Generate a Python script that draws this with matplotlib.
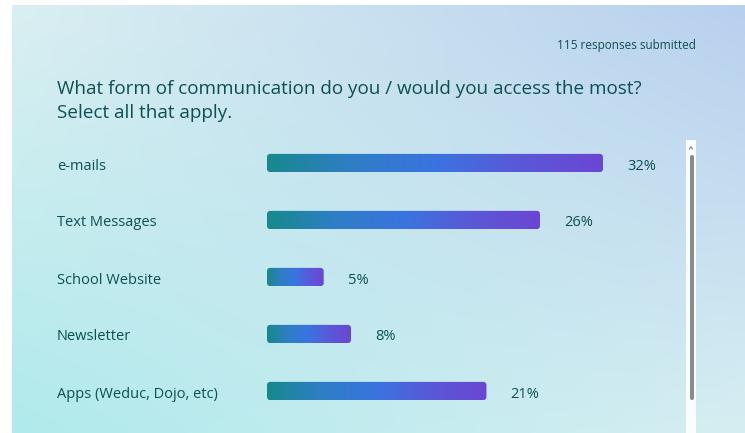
import numpy as np
import matplotlib
matplotlib.use("Agg")
import matplotlib.pyplot as plt
from matplotlib.patches import FancyBboxPatch, Rectangle
from matplotlib.colors import LinearSegmentedColormap
import matplotlib.transforms as mtransforms

categories = ["e-mails", "Text Messages", "School Website", "Newsletter", "Apps (Weduc, Dojo, etc)"]
percent_values = [32, 26, 5.4, 8, 20.9]
percent_labels = ["32%", "26%", "5%", "8%", "21%"]
title_text = "What form of communication do you / would you access the most?\nSelect all that apply."
responses_text = "115 responses submitted"

W, H = 745, 433
fig = plt.figure(figsize=(W / 100, H / 100), dpi=100)
fig.patch.set_facecolor("white")
plt.rcParams['font.family'] = ['Open Sans', 'DejaVu Sans']

# background axes in pixel coordinates
bg = fig.add_axes([0, 0, 1, 1])
bg.set_xlim(0, W)
bg.set_ylim(H, 0)
bg.axis("off")

# panel gradient (bilinear between corners)
tl = np.array([218, 239, 242]) / 255
tr = np.array([184, 208, 238]) / 255
bl = np.array([176, 234, 236]) / 255
br = np.array([214, 238, 242]) / 255
ny, nx = 100, 200
u = np.linspace(0, 1, nx)[None, :, None]
v = np.linspace(0, 1, ny)[:, None, None]
img = (1 - v) * ((1 - u) * tl + u * tr) + v * ((1 - u) * bl + u * br)
bg.imshow(img, extent=[12, W, H, 5], aspect="auto", interpolation="bilinear", zorder=0)

# scrollbar
bg.add_patch(Rectangle((686, 140), 10, H - 140, facecolor="#fbfcfd", edgecolor="none", zorder=1))
bg.add_patch(FancyBboxPatch((690, 155), 4, 245, boxstyle="round,pad=0,rounding_size=2",
                            facecolor="#8a8a8a", edgecolor="none", zorder=2))
bg.plot([689.5, 691, 692.5], [149, 146.5, 149], color="#8a8a8a", lw=0.8, zorder=2)

text_color = "#0d5052"
bg.text(696, 45, responses_text, ha="right", va="center", fontsize=8.5, color=text_color)
bg.text(57, 101, title_text, ha="left", va="center", fontsize=13.6, color=text_color,
        linespacing=1.5)

# bar axes
x0, x1 = 267, 687
y_top, y_bot = 134.5, 419.5
ax = fig.add_axes([x0 / W, 1 - y_bot / H, (x1 - x0) / W, (y_bot - y_top) / H])
ax.set_xlim(0, 40)
ax.set_ylim(len(categories) - 0.5, -0.5)
ax.axis("off")
ax.patch.set_alpha(0)

cmap = LinearSegmentedColormap.from_list("barg", ["#17898c", "#2f7ec6", "#3a74e0", "#5a58d8", "#6b46d4"])
grad = np.linspace(0, 1, 256)[None, :]
bh = 0.32
rs = 0.3
px_per_x = (x1 - x0) / 40
px_per_y = (y_bot - y_top) / len(categories)
aspect = px_per_x / px_per_y

lbl_tr = mtransforms.blended_transform_factory(bg.transData, ax.transData)
off_tr = mtransforms.offset_copy(lbl_tr, fig=fig, x=0, y=-3, units="dots")
val_tr = mtransforms.offset_copy(ax.transData, fig=fig, x=0, y=-3, units="dots")
for i, (cat, val, lab) in enumerate(zip(categories, percent_values, percent_labels)):
    im = ax.imshow(grad, cmap=cmap, extent=[0, val, i + bh / 2, i - bh / 2], aspect="auto", zorder=3)
    clip = FancyBboxPatch((0, i - bh / 2), val, bh, boxstyle=f"round,pad=0,rounding_size={rs}",
                          mutation_aspect=aspect, facecolor="none", edgecolor="none", transform=ax.transData)
    ax.add_patch(clip)
    im.set_clip_path(clip)
    ax.text(val + 2.3, i, lab, ha="left", va="center", fontsize=10.5, color=text_color, transform=val_tr)
    ax.text(57, i, cat, ha="left", va="center", fontsize=10.5, color=text_color, transform=off_tr)

ax.set_xlim(0, 40)
ax.set_ylim(len(categories) - 0.5, -0.5)
fig.savefig("out.png", dpi=100)
